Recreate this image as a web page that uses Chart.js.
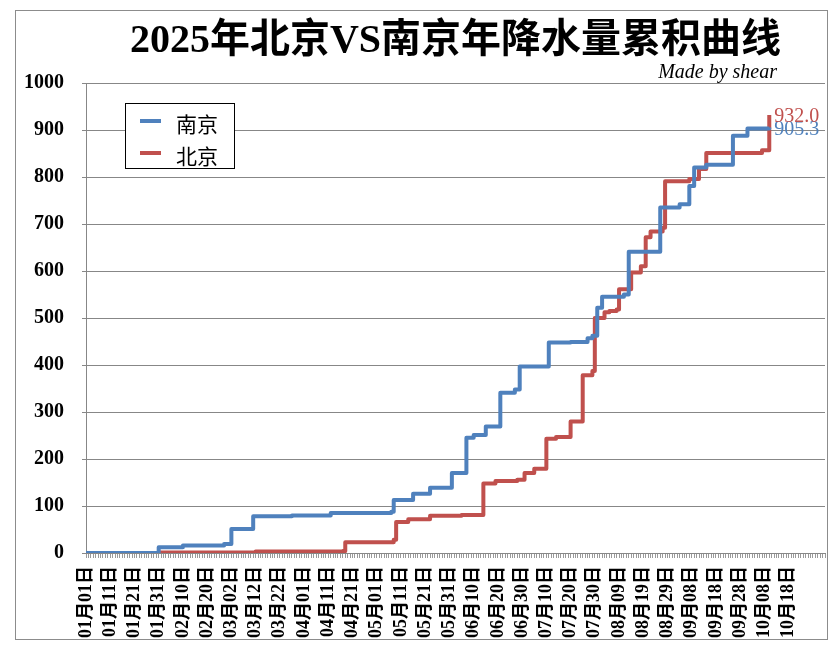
<!DOCTYPE html>
<html>
<head>
<meta charset="utf-8">
<title>2025年北京VS南京年降水量累积曲线</title>
<script src="https://cdn.jsdelivr.net/npm/chart.js@4"></script>
<style>
  body { margin: 0; background: #fff; }
  #box { position: absolute; left: 15px; top: 10px; width: 811px; height: 628px; border: 1px solid #8c8c8c; background: #fff; }
</style>
</head>
<body>
<div id="box"><canvas id="rain" width="811" height="628"></canvas></div>
<script>
const titleText = '2025年北京VS南京年降水量累积曲线';
const subtitleText = 'Made by shear';

// one label every 10 days, day 0 = 01月01日
const tickLabels = ['01月01日', '01月11日', '01月21日', '01月31日', '02月10日', '02月20日',
  '03月02日', '03月12日', '03月22日', '04月01日', '04月11日', '04月21日',
  '05月01日', '05月11日', '05月21日', '05月31日', '06月10日', '06月20日',
  '06月30日', '07月10日', '07月20日', '07月30日', '08月09日', '08月19日',
  '08月29日', '09月08日', '09月18日', '09月28日', '10月08日', '10月18日'];

// day of year (0 = Jan 1) on which the running total changes, and the total (mm)
const njDay  = [0, 30, 40, 57, 60, 69, 85, 101, 126, 127, 135, 142, 151, 157, 160, 165, 171, 177, 179, 191,
  200, 207, 209, 211, 213, 222, 224, 237, 245, 249, 251, 256, 267, 273, 282];
const njRain = [0, 12, 16, 19, 51, 78, 80, 85, 88, 113, 126, 139, 170, 245, 251, 269, 341, 348, 397, 448,
  449, 457, 462, 522, 545, 550, 641, 735, 742, 781, 820, 826, 888, 903, 905.3];

const bjDay  = [0, 30, 70, 106, 107, 127, 128, 133, 142, 155, 164, 169, 178, 181, 185, 190, 194, 200, 205, 209,
  210, 214, 216, 219, 220, 225, 229, 231, 233, 238, 239, 249, 253, 256, 279, 282];
const bjRain = [0, 1, 3, 4, 23, 28, 66, 72, 79, 81, 148, 153, 156, 170, 179, 243, 247, 280, 378, 387,
  500, 512, 515, 518, 561, 597, 610, 672, 684, 692, 791, 796, 817, 851, 857, 932.0];

const serif = '"Liberation Serif", "Noto Sans CJK SC", serif';
const gridGray = '#878787';

const decor = {
  id: 'decor',
  afterDraw(chart) {
    const ctx = chart.ctx;
    const a = chart.chartArea;
    ctx.save();

    // title + subtitle
    ctx.fillStyle = '#000';
    ctx.textAlign = 'center';
    ctx.textBaseline = 'middle';
    ctx.font = 'bold 40px ' + serif;
    ctx.fillText(titleText, (a.left + a.right) / 2, 31);
    ctx.textAlign = 'right';
    ctx.font = 'italic 20px ' + serif;
    ctx.fillText(subtitleText, a.right - 48, a.top - 10);

    // legend box
    const lx = a.left + 39, ly = a.top + 20;
    ctx.fillStyle = '#fff';
    ctx.fillRect(lx, ly, 109, 65);
    ctx.strokeStyle = '#000';
    ctx.lineWidth = 1;
    ctx.strokeRect(lx + 0.5, ly + 0.5, 109, 65);
    chart.data.datasets.forEach((ds, i) => {
      const y = ly + 18 + i * 32;
      ctx.strokeStyle = ds.borderColor;
      ctx.lineWidth = 4;
      ctx.beginPath();
      ctx.moveTo(lx + 15, y);
      ctx.lineTo(lx + 36, y);
      ctx.stroke();
      ctx.fillStyle = '#000';
      ctx.textAlign = 'left';
      ctx.font = '21px "Noto Sans CJK SC", sans-serif';
      ctx.fillText(ds.label, lx + 51, y + 3);
    });

    // final totals at the end of each curve
    chart.data.datasets.forEach((ds, i) => {
      const pts = chart.getDatasetMeta(i).data;
      const p = pts[pts.length - 1];
      ctx.fillStyle = ds.borderColor;
      ctx.textAlign = 'left';
      ctx.font = '20px ' + serif;
      ctx.fillText(ds.data[ds.data.length - 1].y.toFixed(1), p.x + 5, p.y + 2);
    });
    ctx.restore();
  }
};

new Chart(document.getElementById('rain'), {
  type: 'line',
  data: {
    datasets: [
      {
        label: '南京',
        data: njDay.map((d, i) => ({ x: d, y: njRain[i] })),
        borderColor: '#4f81bd'
      },
      {
        label: '北京',
        data: bjDay.map((d, i) => ({ x: d, y: bjRain[i] })),
        borderColor: '#c0504d'
      }
    ]
  },
  options: {
    responsive: false,
    animation: false,
    layout: { padding: { top: 72, right: 2 } },
    plugins: {
      legend: { display: false },
      tooltip: { enabled: false }
    },
    elements: {
      point: { radius: 0 },
      line: { borderWidth: 4, stepped: 'before', borderJoinStyle: 'round' }
    },
    scales: {
      x: {
        type: 'linear',
        min: 0,
        max: 305,
        afterFit: (s) => { s.height = 86; s.paddingLeft = 0; s.paddingRight = 0; },
        ticks: {
          stepSize: 1,
          autoSkip: false,
          minRotation: 90,
          maxRotation: 90,
          padding: 8,
          color: '#000',
          font: { family: serif, size: 18, weight: 'bold' },
          callback: (v) => (v % 10 === 0 && tickLabels[v / 10]) || ''
        },
        grid: { drawOnChartArea: false, color: '#9a9a9a', tickLength: 5 },
        border: { color: gridGray }
      },
      y: {
        min: 0,
        max: 1000,
        afterFit: (s) => { s.width = 70; },
        ticks: {
          stepSize: 100,
          padding: 18,
          color: '#000',
          font: { family: serif, size: 20, weight: 'bold' },
          callback: (v) => String(v)
        },
        grid: { color: gridGray, tickLength: 4 },
        border: { color: gridGray }
      }
    }
  },
  plugins: [decor]
});
</script>
</body>
</html>
